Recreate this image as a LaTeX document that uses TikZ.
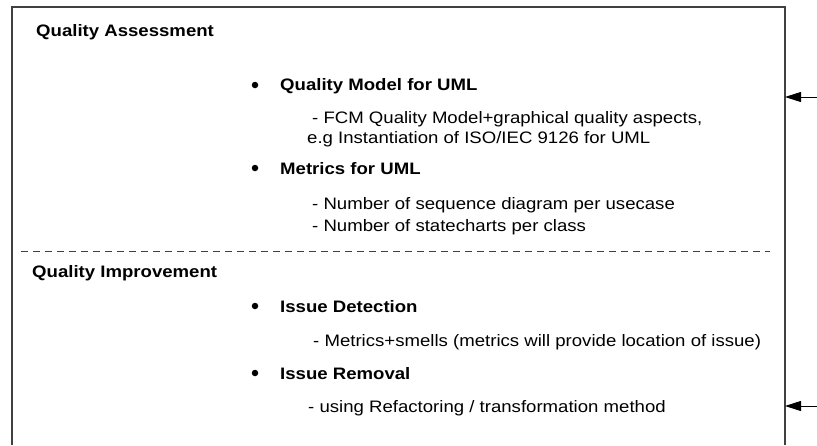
\documentclass[tikz,border=0pt]{standalone}
\usepackage{fontspec}
\setmainfont[FakeStretch=1.12]{Liberation Sans}
\usetikzlibrary{arrows.meta}

\begin{document}
\begin{tikzpicture}[
      x=1pt, y=-1pt,
      titel/.style={font=\fontsize{16.6}{19}\selectfont\bfseries, anchor=base west, inner sep=0pt},
      punkt/.style={font=\fontsize{16.6}{19}\selectfont\bfseries, anchor=base west, inner sep=0pt},
      detail/.style={font=\fontsize{16.6}{19}\selectfont, anchor=base west, inner sep=0pt},
      dot/.style={circle, fill=black, inner sep=0pt, minimum size=6.5pt},
      rahmen/.style={draw=black!75, line width=1.2pt},
      trenner/.style={draw=black!75, line width=0.9pt, dash pattern=on 7pt off 5pt},
      zufluss/.style={-{Triangle[length=16pt,width=10pt]}, line width=1pt}
    ]
    \useasboundingbox (0,0) rectangle (817,445);

    % box, open at the bottom
    \coordinate (bl) at (12,445);
    \coordinate (tl) at (12,7);
    \coordinate (tr) at (785,7);
    \coordinate (br) at (785,445);
    \draw[rahmen] (bl) -- (tl) -- (tr) -- (br);

    % separator
    \coordinate (sl) at (21,251);
    \coordinate (sr) at (770,251);
    \draw[trenner] (sl) -- (sr);

    \node[titel] (qa) at (36,36)  {Quality Assessment};
    \node[dot]   (d1) at (255,85) {};
    \node[punkt] (qm) at (280,90) {Quality Model for UML};
    \node[detail] (fcm) at (312,123) {- FCM Quality Model+graphical quality aspects,};
    \node[detail] (iso) at (307,143) {e.g Instantiation of ISO/IEC 9126 for UML};
    \node[dot]   (d2) at (255,168) {};
    \node[punkt] (mu) at (280,174) {Metrics for UML};
    \node[detail] (sq) at (312,209) {- Number of sequence diagram per usecase};
    \node[detail] (sc) at (312,231) {- Number of statecharts per class};

    \node[titel] (qi) at (32,277)  {Quality Improvement};
    \node[dot]   (d3) at (255,306) {};
    \node[punkt] (id) at (280,312) {Issue Detection};
    \node[detail] (ms) at (313,346) {- Metrics+smells (metrics will provide location of issue)};
    \node[dot]   (d4) at (255,373) {};
    \node[punkt] (ir) at (280,379) {Issue Removal};
    \node[detail] (rf) at (308,412) {- using Refactoring / transformation method};

    % incoming arrows
    \coordinate (ein1) at (817,97);
    \coordinate (ein2) at (817,406);
    \coordinate (an1)  at (785,97);
    \coordinate (an2)  at (785,406);
    \draw[zufluss] (ein1) -- (an1);
    \draw[zufluss] (ein2) -- (an2);
  \end{tikzpicture}
\end{document}
